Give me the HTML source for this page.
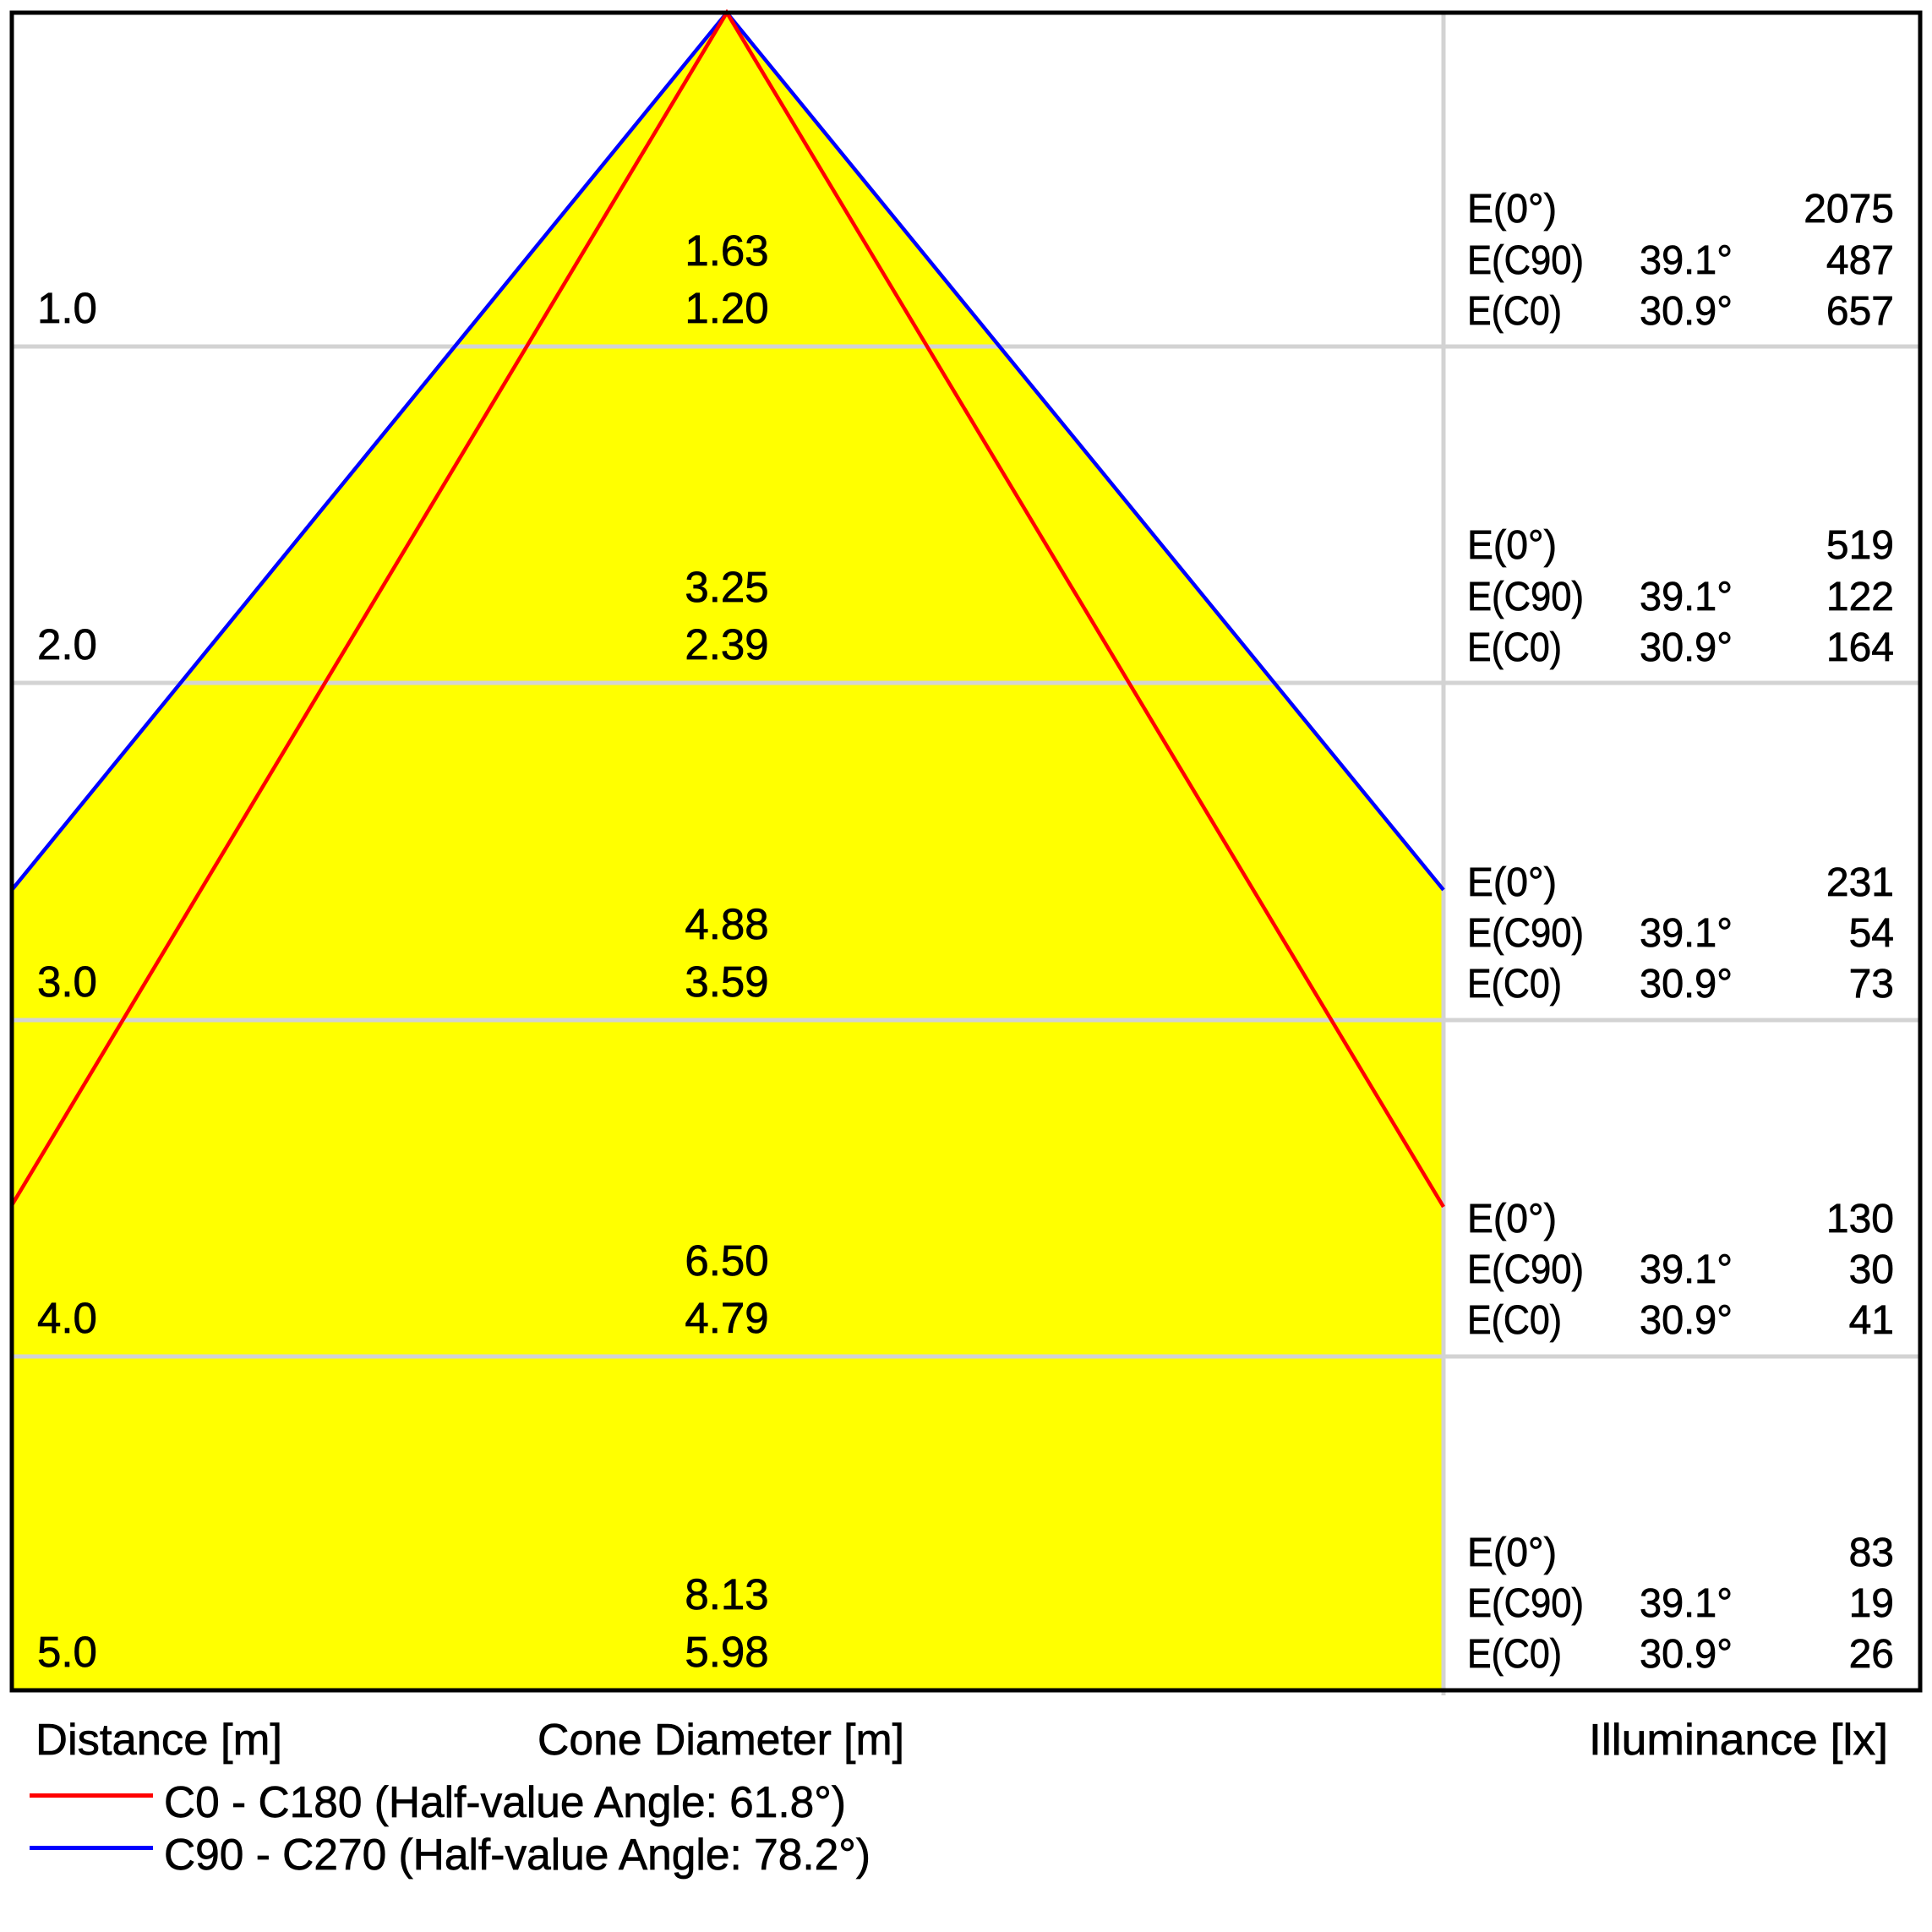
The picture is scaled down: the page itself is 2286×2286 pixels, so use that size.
<!DOCTYPE html>
<html><head><meta charset="utf-8"><style>
html,body{margin:0;padding:0;background:#fff;}
svg{display:block;}
text{font-family:"Liberation Sans","DejaVu Sans",sans-serif;fill:#000;stroke:#000;stroke-width:0.7;}
</style></head><body>
<svg width="2286" height="2286" viewBox="0 0 2286 2286" xmlns="http://www.w3.org/2000/svg">
<rect x="0" y="0" width="2286" height="2286" fill="#fff"/>
<!-- yellow fill -->
<polygon points="14,1053 860,15 1708,1053 1708,2000 14,2000" fill="#ffff00"/>
<!-- gray grid -->
<g stroke="#d3d3d3" stroke-width="5">
<line x1="14" y1="410" x2="2272" y2="410"/>
<line x1="14" y1="808" x2="2272" y2="808"/>
<line x1="14" y1="1207" x2="2272" y2="1207"/>
<line x1="14" y1="1605" x2="2272" y2="1605"/>
<line x1="1708" y1="15" x2="1708" y2="2006"/>
</g>
<!-- cone lines -->
<polyline points="14,1053 860,15 1708,1053" fill="none" stroke="#0000ff" stroke-width="4.5"/>
<polyline points="14,1426 860,15 1708,1428" fill="none" stroke="#ff0000" stroke-width="4.5"/>
<!-- frame -->
<rect x="14" y="15" width="2258" height="1985" fill="none" stroke="#000" stroke-width="5"/>
<line x1="1708" y1="2003" x2="1708" y2="2006" stroke="#d3d3d3" stroke-width="5"/>

<!-- left labels -->
<g font-size="51">
<text x="44" y="382">1.0</text>
<text x="44" y="780">2.0</text>
<text x="44" y="1179">3.0</text>
<text x="44" y="1577">4.0</text>
<text x="44" y="1972">5.0</text>
</g>
<!-- center values -->
<g font-size="51" text-anchor="middle">
<text x="860" y="314">1.63</text>
<text x="860" y="382">1.20</text>
<text x="860" y="712">3.25</text>
<text x="860" y="780">2.39</text>
<text x="860" y="1111">4.88</text>
<text x="860" y="1179">3.59</text>
<text x="860" y="1509">6.50</text>
<text x="860" y="1577">4.79</text>
<text x="860" y="1904">8.13</text>
<text x="860" y="1972">5.98</text>
</g>
<!-- right column -->
<g font-size="48">
<text x="1736" y="263" textLength="106" lengthAdjust="spacingAndGlyphs">E(0°)</text>
<text x="1736" y="324" textLength="138" lengthAdjust="spacingAndGlyphs">E(C90)</text>
<text x="1736" y="384" textLength="112" lengthAdjust="spacingAndGlyphs">E(C0)</text>
<text x="1940" y="324" textLength="110" lengthAdjust="spacingAndGlyphs">39.1°</text>
<text x="1940" y="384" textLength="110" lengthAdjust="spacingAndGlyphs">30.9°</text>

<text x="1736" y="661" textLength="106" lengthAdjust="spacingAndGlyphs">E(0°)</text>
<text x="1736" y="722" textLength="138" lengthAdjust="spacingAndGlyphs">E(C90)</text>
<text x="1736" y="782" textLength="112" lengthAdjust="spacingAndGlyphs">E(C0)</text>
<text x="1940" y="722" textLength="110" lengthAdjust="spacingAndGlyphs">39.1°</text>
<text x="1940" y="782" textLength="110" lengthAdjust="spacingAndGlyphs">30.9°</text>

<text x="1736" y="1060" textLength="106" lengthAdjust="spacingAndGlyphs">E(0°)</text>
<text x="1736" y="1120" textLength="138" lengthAdjust="spacingAndGlyphs">E(C90)</text>
<text x="1736" y="1180" textLength="112" lengthAdjust="spacingAndGlyphs">E(C0)</text>
<text x="1940" y="1120" textLength="110" lengthAdjust="spacingAndGlyphs">39.1°</text>
<text x="1940" y="1180" textLength="110" lengthAdjust="spacingAndGlyphs">30.9°</text>

<text x="1736" y="1458" textLength="106" lengthAdjust="spacingAndGlyphs">E(0°)</text>
<text x="1736" y="1518" textLength="138" lengthAdjust="spacingAndGlyphs">E(C90)</text>
<text x="1736" y="1578" textLength="112" lengthAdjust="spacingAndGlyphs">E(C0)</text>
<text x="1940" y="1518" textLength="110" lengthAdjust="spacingAndGlyphs">39.1°</text>
<text x="1940" y="1578" textLength="110" lengthAdjust="spacingAndGlyphs">30.9°</text>

<text x="1736" y="1853" textLength="106" lengthAdjust="spacingAndGlyphs">E(0°)</text>
<text x="1736" y="1913" textLength="138" lengthAdjust="spacingAndGlyphs">E(C90)</text>
<text x="1736" y="1973" textLength="112" lengthAdjust="spacingAndGlyphs">E(C0)</text>
<text x="1940" y="1913" textLength="110" lengthAdjust="spacingAndGlyphs">39.1°</text>
<text x="1940" y="1973" textLength="110" lengthAdjust="spacingAndGlyphs">30.9°</text>
</g>
<g font-size="48" text-anchor="end">
<text x="2241" y="263">2075</text>
<text x="2241" y="324">487</text>
<text x="2241" y="384">657</text>
<text x="2241" y="661">519</text>
<text x="2241" y="722">122</text>
<text x="2241" y="782">164</text>
<text x="2241" y="1060">231</text>
<text x="2241" y="1120">54</text>
<text x="2241" y="1180">73</text>
<text x="2241" y="1458">130</text>
<text x="2241" y="1518">30</text>
<text x="2241" y="1578">41</text>
<text x="2241" y="1853">83</text>
<text x="2241" y="1913">19</text>
<text x="2241" y="1973">26</text>
</g>

<!-- axis titles -->
<g font-size="52">
<text x="42" y="2076" textLength="292" lengthAdjust="spacingAndGlyphs">Distance [m]</text>
<text x="636" y="2076" textLength="434" lengthAdjust="spacingAndGlyphs">Cone Diameter [m]</text>
<text x="1880" y="2076" textLength="354" lengthAdjust="spacingAndGlyphs">Illuminance [lx]</text>
</g>

<!-- legend -->
<line x1="35" y1="2124.5" x2="181" y2="2124.5" stroke="#ff0000" stroke-width="5"/>
<line x1="35" y1="2186.5" x2="181" y2="2186.5" stroke="#0000ff" stroke-width="5"/>
<g font-size="52">
<text x="194" y="2150" textLength="807" lengthAdjust="spacingAndGlyphs">C0 - C180 (Half-value Angle: 61.8°)</text>
<text x="194" y="2212" textLength="836" lengthAdjust="spacingAndGlyphs">C90 - C270 (Half-value Angle: 78.2°)</text>
</g>
</svg>
</body></html>
